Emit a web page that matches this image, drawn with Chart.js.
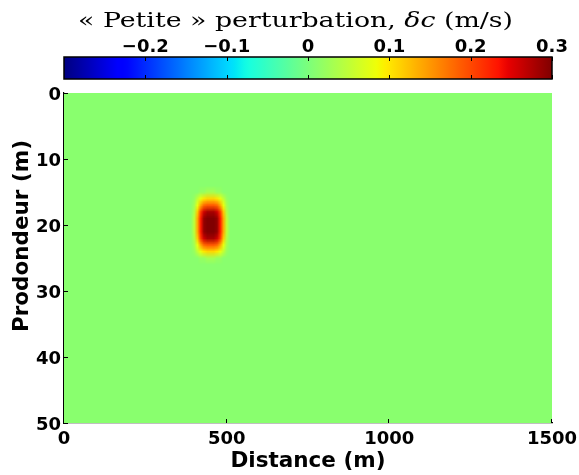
<!DOCTYPE html>
<html>
<head>
<meta charset="utf-8">
<script src="https://cdn.jsdelivr.net/npm/chart.js@4.4.0/dist/chart.umd.min.js"></script>
<style>
  html, body { margin: 0; padding: 0; background: #fff; }
  #wrap { position: relative; width: 579px; height: 475px; overflow: hidden; }
  canvas { position: absolute; left: 0; top: 0; }
  #titre {
    position: absolute; left: 78px; top: 10px; white-space: nowrap;
    font-family: "DejaVu Serif", serif; font-size: 21px; line-height: 1;
    color: #000; transform-origin: 0 0; display: inline-block;
  }
</style>
</head>
<body>
<div id="wrap">
  <canvas id="colorbar" width="579" height="90"></canvas>
  <canvas id="carte" width="579" height="475"></canvas>
  <div id="titre">« Petite » perturbation, <i>δc</i> (m/s)</div>
</div>
<script>
// axes
var distanceTicks = [0, 500, 1000, 1500];
var profondeurTicks = [0, 10, 20, 30, 40, 50];
var colorbarTicks = [-0.2, -0.1, 0, 0.1, 0.2, 0.3];
var colorbarLabels = ["\u22120.2", "\u22120.1", "0", "0.1", "0.2", "0.3"];
var vMin = -0.3;
var vMax = 0.3;

// champ de perturbation (m/s) : fond quasi nul + petite anomalie autour de x=450 m, z=20 m
var fondValeur = 0.01;
var perturbX = [390, 400, 410, 420, 430, 440, 450, 460, 470, 480, 490, 500, 510];
var perturbZ = [14, 15, 16, 17, 18, 19, 20, 21, 22, 23, 24, 25, 26];
var perturbValeurs = [
    [0.01, 0.01, 0.01, 0.01, 0.01, 0.01, 0.01, 0.01, 0.01, 0.01, 0.01, 0.01, 0.01],
    [0.01, 0.01, 0.01, 0.02, 0.02, 0.03, 0.03, 0.03, 0.02, 0.02, 0.01, 0.01, 0.01],
    [0.01, 0.02, 0.05, 0.08, 0.10, 0.11, 0.11, 0.11, 0.10, 0.08, 0.05, 0.02, 0.01],
    [0.01, 0.03, 0.08, 0.14, 0.18, 0.19, 0.19, 0.19, 0.18, 0.14, 0.08, 0.03, 0.01],
    [0.01, 0.04, 0.12, 0.21, 0.26, 0.28, 0.28, 0.28, 0.26, 0.21, 0.12, 0.04, 0.01],
    [0.01, 0.05, 0.14, 0.23, 0.29, 0.30, 0.30, 0.30, 0.29, 0.23, 0.14, 0.05, 0.01],
    [0.01, 0.05, 0.14, 0.23, 0.29, 0.30, 0.30, 0.30, 0.29, 0.23, 0.14, 0.05, 0.01],
    [0.01, 0.05, 0.14, 0.23, 0.29, 0.30, 0.30, 0.30, 0.29, 0.23, 0.14, 0.05, 0.01],
    [0.01, 0.04, 0.12, 0.21, 0.26, 0.28, 0.28, 0.28, 0.26, 0.21, 0.12, 0.04, 0.01],
    [0.01, 0.03, 0.08, 0.14, 0.18, 0.19, 0.19, 0.19, 0.18, 0.14, 0.08, 0.03, 0.01],
    [0.01, 0.02, 0.05, 0.08, 0.10, 0.11, 0.11, 0.11, 0.10, 0.08, 0.05, 0.02, 0.01],
    [0.01, 0.01, 0.01, 0.02, 0.02, 0.03, 0.03, 0.03, 0.02, 0.02, 0.01, 0.01, 0.01],
    [0.01, 0.01, 0.01, 0.01, 0.01, 0.01, 0.01, 0.01, 0.01, 0.01, 0.01, 0.01, 0.01]
];

var policeTicks = { family: "DejaVu Sans", weight: "bold", size: 18 };
var policeTitres = { family: "DejaVu Sans", weight: "bold", size: 21.5 };

// palette "jet" de matplotlib
var jetR = [[0, 0], [0.35, 0], [0.66, 1], [0.89, 1], [1, 0.5]];
var jetG = [[0, 0], [0.125, 0], [0.375, 1], [0.64, 1], [0.91, 0], [1, 0]];
var jetB = [[0, 0.5], [0.11, 1], [0.34, 1], [0.65, 0], [1, 0]];

function segment(pts, t) {
    for (let i = 1; i < pts.length; i++) {
        if (t <= pts[i][0]) {
            let a = pts[i - 1], b = pts[i];
            return a[1] + (b[1] - a[1]) * (t - a[0]) / (b[0] - a[0]);
        }
    }
    return pts[pts.length - 1][1];
}

function jetRgb(t) {
    t = Math.min(1, Math.max(0, t));
    return [segment(jetR, t), segment(jetG, t), segment(jetB, t)].map(c => Math.round(c * 255));
}

function couleur(v) {
    let c = jetRgb((v - vMin) / (vMax - vMin));
    return "rgb(" + c[0] + "," + c[1] + "," + c[2] + ")";
}

// pas de marge automatique pour les étiquettes qui débordent
function sansMarge(s) {
    s.paddingLeft = 0;
    s.paddingRight = 0;
}

// barre de couleur
const barrePlugin = {
    id: "barre",
    beforeDatasetsDraw(chart) {
        const { ctx, chartArea: a, scales: { x } } = chart;
        let x0 = x.getPixelForValue(vMin);
        let x1 = x.getPixelForValue(vMax);
        let grad = ctx.createLinearGradient(x0, 0, x1, 0);
        for (let i = 0; i <= 100; i++) {
            grad.addColorStop(i / 100, couleur(vMin + (vMax - vMin) * i / 100));
        }
        ctx.save();
        ctx.fillStyle = grad;
        ctx.fillRect(x0, a.top, x1 - x0, a.bottom - a.top);
        ctx.strokeStyle = "#000";
        ctx.lineWidth = 1;
        colorbarTicks.forEach(v => {
            let px = Math.round(x.getPixelForValue(v)) + 0.5;
            ctx.beginPath();
            ctx.moveTo(px, a.top); ctx.lineTo(px, a.top + 4);
            ctx.moveTo(px, a.bottom); ctx.lineTo(px, a.bottom - 4);
            ctx.stroke();
        });
        ctx.lineWidth = 1.5;
        ctx.strokeRect(x0, a.top, x1 - x0, a.bottom - a.top);
        ctx.restore();
    }
};

new Chart(document.getElementById("colorbar"), {
    type: "scatter",
    data: { datasets: [{ data: colorbarTicks.map(v => ({ x: v, y: 0.5 })), pointRadius: 0 }] },
    options: {
        responsive: false,
        animation: false,
        devicePixelRatio: 1,
        layout: { padding: { left: 64, right: 27, top: 0, bottom: 11 } },
        plugins: { legend: { display: false }, tooltip: { enabled: false } },
        scales: {
            x: {
                type: "linear", position: "top", min: vMin, max: vMax,
                afterBuildTicks: s => { s.ticks = colorbarTicks.map(v => ({ value: v })); },
                afterFit: s => { s.height = 57; sansMarge(s); },
                ticks: {
                    callback: (v, i) => colorbarLabels[i],
                    font: policeTicks, color: "#000", padding: -1,
                    maxRotation: 0, autoSkip: false
                },
                grid: { display: false, drawTicks: false },
                border: { display: false }
            },
            y: { display: false, min: 0, max: 1 }
        }
    },
    plugins: [barrePlugin]
});

// carte principale
const champPlugin = {
    id: "champ",
    beforeDatasetsDraw(chart) {
        const { ctx, chartArea: a, scales: { x, y } } = chart;
        ctx.save();
        ctx.beginPath();
        ctx.rect(a.left, a.top, a.right - a.left, a.bottom - a.top);
        ctx.clip();

        // fond
        let fx0 = x.getPixelForValue(distanceTicks[0]);
        let fx1 = x.getPixelForValue(distanceTicks[distanceTicks.length - 1]);
        let fy0 = y.getPixelForValue(profondeurTicks[0]);
        let fy1 = y.getPixelForValue(profondeurTicks[profondeurTicks.length - 1]);
        ctx.fillStyle = couleur(fondValeur);
        ctx.fillRect(fx0, fy0, fx1 - fx0, fy1 - fy0);

        // anomalie
        let nx = perturbX.length, nz = perturbZ.length;
        let off = document.createElement("canvas");
        off.width = nx; off.height = nz;
        let octx = off.getContext("2d");
        let img = octx.createImageData(nx, nz);
        for (let j = 0; j < nz; j++) {
            for (let i = 0; i < nx; i++) {
                let c = jetRgb((perturbValeurs[j][i] - vMin) / (vMax - vMin));
                let k = (j * nx + i) * 4;
                img.data[k] = c[0]; img.data[k + 1] = c[1]; img.data[k + 2] = c[2]; img.data[k + 3] = 255;
            }
        }
        octx.putImageData(img, 0, 0);
        let dx = (perturbX[1] - perturbX[0]) / 2;
        let dz = (perturbZ[1] - perturbZ[0]) / 2;
        let px0 = x.getPixelForValue(perturbX[0] - dx);
        let px1 = x.getPixelForValue(perturbX[nx - 1] + dx);
        let pz0 = y.getPixelForValue(perturbZ[0] - dz);
        let pz1 = y.getPixelForValue(perturbZ[nz - 1] + dz);
        ctx.imageSmoothingEnabled = true;
        ctx.imageSmoothingQuality = "low";
        ctx.drawImage(off, px0, pz0, px1 - px0, pz1 - pz0);
        ctx.restore();
    },
    afterDraw(chart) {
        const { ctx, chartArea: a, scales: { x, y } } = chart;
        ctx.save();
        ctx.strokeStyle = "#000";
        ctx.lineWidth = 1;
        ctx.beginPath();
        distanceTicks.forEach(v => {
            let px = Math.round(x.getPixelForValue(v)) - 0.5;
            ctx.moveTo(px, a.bottom); ctx.lineTo(px, a.bottom - 4);
        });
        profondeurTicks.forEach(v => {
            let py = Math.round(y.getPixelForValue(v)) + 0.5;
            ctx.moveTo(a.left, py); ctx.lineTo(a.left + 4, py);
        });
        ctx.stroke();

        // titre de l'axe vertical
        ctx.fillStyle = "#000";
        ctx.font = "bold 21.5px 'DejaVu Sans'";
        ctx.textAlign = "center";
        ctx.textBaseline = "middle";
        ctx.translate(22, 236);
        ctx.rotate(-Math.PI / 2);
        ctx.fillText("Prodondeur (m)", 0, 0);
        ctx.restore();
    }
};

new Chart(document.getElementById("carte"), {
    type: "scatter",
    data: { datasets: [{ data: [], pointRadius: 0 }] },
    options: {
        responsive: false,
        animation: false,
        devicePixelRatio: 1,
        layout: { padding: { left: 0, right: 27, top: 93, bottom: 0 } },
        plugins: { legend: { display: false }, tooltip: { enabled: false } },
        scales: {
            x: {
                type: "linear", min: 0, max: 1500,
                afterBuildTicks: s => { s.ticks = distanceTicks.map(v => ({ value: v })); },
                afterFit: s => { s.height = 52; sansMarge(s); },
                ticks: {
                    callback: v => String(v),
                    font: policeTicks, color: "#000", padding: 6, maxRotation: 0, autoSkip: false
                },
                grid: { display: false, drawTicks: false },
                border: { display: true, color: "#000", width: 1.2 },
                title: { display: true, text: "Distance (m)", font: policeTitres, color: "#000", padding: { top: 0, bottom: 1 } }
            },
            y: {
                type: "linear", min: 0, max: 50, reverse: true,
                afterBuildTicks: s => { s.ticks = profondeurTicks.map(v => ({ value: v })); },
                afterFit: s => { s.width = 64; },
                ticks: { font: policeTicks, color: "#000", padding: 3, labelOffset: 2, autoSkip: false },
                grid: { display: false, drawTicks: false },
                border: { display: true, color: "#000", width: 1.2 }
            }
        }
    },
    plugins: [champPlugin]
});

// ajuster la largeur du titre à celle de l'original
document.fonts.ready.then(function () {
    let titre = document.getElementById("titre");
    let w = titre.getBoundingClientRect().width;
    titre.style.transform = "scaleX(" + (435 / w) + ")";
});
</script>
</body>
</html>
